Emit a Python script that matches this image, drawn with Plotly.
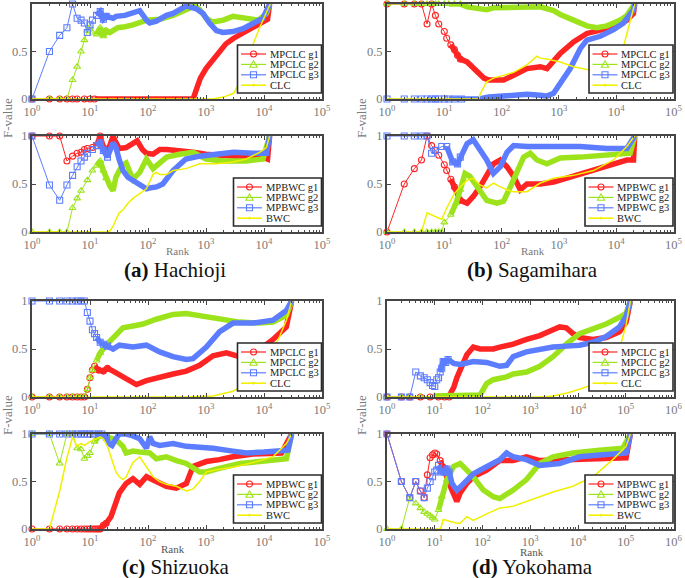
import plotly.graph_objects as go

RED = "#ff2424"
GREEN = "#9de31c"
BLUE = "#5c7dff"
YELLOW = "#f0f000"
FONT = "Liberation Serif"
TICKC = "#7a7a7a"
FRAME = "#454545"

# ---------------- data (rank, F-value) ----------------
# (a) Hachioji
hac_clc_g1_rank = [1, 2, 3, 4, 5, 6, 8, 10, 12, 600, 700, 800, 1000, 1300, 1700, 2200, 3000, 4500, 6500, 9000, 11500, 12500]
hac_clc_g1_f = [0, 0, 0, 0, 0, 0, 0, 0, 0, 0, .12, .22, .32, .41, .5, .58, .64, .7, .74, .79, .84, 1.0]
hac_clc_g2_rank = [1, 2, 3, 4, 5, 6, 7, 8, 9, 10, 11, 13, 15, 17, 19, 22, 26, 30, 40, 55, 95, 160, 270, 460, 640, 780, 1000, 1300, 2000, 2900, 5000, 8000, 11000, 12500]
hac_clc_g2_f = [0, 0, 0, 0, .2, .34, .5, .62, .72, .76, .7, .68, .75, .66, .72, .70, .73, .75, .76, .78, .83, .84, .88, .94, .98, .94, .85, .81, .83, .87, .85, .83, .9, 1.0]
hac_clc_g3_rank = [1, 2, 3, 4, 5, 6, 7, 8, 9, 10, 11, 13, 15, 17, 19, 25, 28, 40, 55, 72, 94, 107, 139, 208, 270, 355, 458, 680, 890, 1150, 1510, 1960, 2920, 4340, 6460, 9610, 12500]
hac_clc_g3_f = [0, .5, .67, .75, 1, .85, .83, .8, .7, .78, .83, .88, .92, .84, .87, .85, .87, .88, .9, .93, .83, .80, .82, .88, .9, .95, .98, .95, .9, .8, .72, .70, .71, .74, .79, .85, 1.0]
hac_clc_rank = [1, 1300, 2000, 3000, 4000, 5000, 6500, 8400, 10000, 12800]
hac_clc_f = [0, 0, .02, .06, .2, .38, .58, .75, .86, 1.0]

hac_bwc_g1_rank = [1, 2, 3, 4, 5, 6, 7, 8, 9, 11, 13, 15, 17, 19, 22, 25, 27, 32, 42, 55, 65, 80, 94, 122, 160, 210, 350, 600, 1000, 2200, 4900, 9600, 11500, 12500]
hac_bwc_g1_f = [1, 1, 1, .74, .79, .82, .83, .86, .87, .88, .9, 1.0, .88, .83, .9, 1.0, .95, .87, .88, .93, .95, .86, .82, .81, .86, .86, .85, .83, .81, .79, .78, .78, .76, 1.0]
hac_bwc_g2_rank = [1, 2, 3, 4, 5, 6, 7, 9, 11, 13, 15, 17, 19, 22, 25, 28, 32, 37, 42, 55, 72, 94, 122, 160, 210, 350, 600, 1000, 2000, 5000, 9600, 12500]
hac_bwc_g2_f = [0, 0, 0, 0, .25, .35, .43, .54, .64, .69, .74, .64, .56, .48, .43, .57, .64, .7, .72, .55, .62, .76, .66, .72, .78, .81, .83, .76, .74, .74, .76, 1.0]
hac_bwc_g3_rank = [1, 2, 3, 4, 5, 6, 7, 8, 9, 11, 13, 15, 17, 20, 25, 28, 32, 37, 45, 55, 72, 94, 110, 140, 180, 210, 270, 450, 780, 1500, 3000, 6500, 11000, 12500]
hac_bwc_g3_f = [1, .49, .33, .49, .59, .68, .74, .78, .82, .86, .9, .93, .85, .78, .93, .88, .75, .64, .57, .54, .5, .45, .46, .47, .5, .56, .64, .76, .79, .81, .83, .82, .82, 1.0]
hac_bwc_rank = [1, 20, 22, 25, 28, 32, 37, 45, 55, 72, 94, 122, 139, 160, 210, 270, 450, 780, 1500, 2900, 4960, 8400, 11000, 12500]
hac_bwc_f = [0, 0, .01, .06, .13, .2, .23, .3, .35, .4, .45, .6, .62, .6, .6, .64, .66, .71, .71, .73, .76, .83, .88, 1.0]

# (b) Sagamihara
sag_clc_g1_rank = [1, 2, 3, 4, 5, 6, 7, 8, 10, 11, 13, 15, 17, 19, 25, 32, 42, 49, 60, 72, 108, 162, 277, 472, 618, 1055, 1800, 3077, 5260, 8980, 15350, 20000, 21000]
sag_clc_g1_f = [1, 1, 1, 1, .79, 1, .88, .79, .71, .64, .57, .52, .46, .42, .39, .32, .26, .22, .2, .2, .2, .25, .32, .34, .32, .48, .6, .69, .73, .76, .83, .9, 1]
sag_clc_g2_rank = [1, 2, 3, 4, 5, 6, 7, 8, 10, 12, 15, 19, 25, 32, 42, 55, 72, 108, 162, 277, 472, 807, 1055, 1800, 3077, 4600, 6870, 8980, 11740, 15350, 21000]
sag_clc_g2_f = [1, 1, 1, 1, 1, 1, 1, 1, 1, 1, 1, 1, .97, .96, .95, .94, .96, .96, .97, .97, .97, .93, .89, .83, .77, .75, .77, .8, .83, .88, 1]
sag_clc_g3_rank = [1, 2, 3, 4, 5, 6, 7, 8, 10, 12, 15, 20, 40, 60, 100, 160, 277, 472, 618, 807, 1055, 1577, 2355, 3077, 5260, 8980, 13420, 20060, 21000]
sag_clc_g3_f = [0, 0, 0, 0, 0, 0, 0, 0, 0, 0, 0, 0, 0, .02, .03, .05, .05, .04, .03, .06, .16, .32, .53, .62, .66, .73, .8, .94, 1]
sag_clc_rank = [1, 40, 42, 49, 55, 72, 108, 162, 277, 413, 472, 618, 1055, 1800, 3077, 4600, 6870, 9000, 11740, 13420, 17500, 21000]
sag_clc_f = [0, 0, .05, .12, .18, .22, .25, .28, .36, .45, .43, .42, .39, .34, .31, .3, .3, .33, .42, .55, .8, 1]

sag_bwc_g1_rank = [1, 2, 3, 4, 5, 6, 7, 8, 10, 11, 13, 15, 19, 25, 32, 42, 55, 72, 95, 124, 162, 212, 277, 472, 807, 1800, 4025, 8980, 15350, 20060, 21000]
sag_bwc_g1_f = [0, .5, .66, .75, 1, .9, .85, .8, .7, .64, .55, .47, .33, .3, .37, .47, .58, .71, .75, .68, .58, .44, .5, .5, .52, .58, .64, .71, .75, .75, 1]
sag_bwc_g2_rank = [1, 2, 3, 4, 5, 6, 7, 8, 9, 10, 13, 16, 19, 23, 28, 37, 55, 83, 108, 142, 185, 242, 316, 413, 618, 1055, 2355, 5260, 11740, 17540, 21000]
sag_bwc_g2_f = [0, 0, 0, 0, 0, 0, 0, 0, 0, .1, .18, .3, .44, .61, .58, .47, .33, .3, .32, .47, .64, .78, .82, .75, .71, .77, .78, .8, .82, .82, 1]
sag_bwc_g3_rank = [1, 2, 3, 4, 5, 6, 7, 9, 11, 14, 17, 19, 25, 32, 42, 55, 72, 95, 124, 162, 277, 472, 1055, 2355, 6870, 15350, 21000]
sag_bwc_g3_f = [1, 1, 1, 1, 1, .82, .85, .89, .89, .73, .71, .78, .92, .96, .85, .75, .61, .68, .83, .9, .89, .89, .9, .89, .87, .87, 1]
sag_bwc_rank = [1, 2, 3, 4, 5, 9, 11, 15, 19, 25, 32, 42, 55, 72, 95, 124, 162, 277, 472, 807, 1800, 4025, 8980, 15350, 21000]
sag_bwc_f = [0, 0, 0, 0, .2, .13, .25, .4, .47, .54, .56, .49, .46, .51, .47, .44, .42, .42, .51, .56, .59, .64, .75, .89, 1]

# (c) Shizuoka
shi_clc_g1_rank = [1, 2, 3, 4, 5, 6, 7, 8, 9, 10, 11, 12, 14, 17, 20, 25, 32, 42, 63, 94, 159, 270, 458, 777, 1321, 2242, 3805, 6460, 14300, 24300, 30000]
shi_clc_g1_f = [0, 0, 0, 0, 0, 0, 0, 0, .08, .2, .28, .32, .28, .27, .3, .27, .23, .18, .13, .17, .21, .24, .27, .33, .43, .46, .42, .44, .6, .73, 1]
shi_clc_g2_rank = [1, 2, 3, 4, 5, 6, 7, 8, 9, 10, 11, 13, 15, 19, 25, 37, 55, 82, 139, 270, 458, 1013, 2242, 3805, 8420, 14300, 24300, 30000]
shi_clc_g2_f = [0, 0, 0, 0, 0, 0, 0, 0, .08, .2, .28, .38, .46, .54, .62, .72, .74, .76, .81, .86, .87, .84, .8, .78, .77, .78, .85, 1]
shi_clc_g3_rank = [1, 2, 3, 4, 5, 6, 7, 8, 9, 10, 11, 12, 13, 15, 17, 20, 25, 32, 55, 94, 159, 270, 458, 597, 1013, 1721, 2922, 6460, 14300, 24300, 30000]
shi_clc_g3_f = [1, 1, 1, 1, 1, 1, 1, 1, .88, .79, .7, .66, .62, .57, .55, .53, .5, .54, .52, .54, .47, .42, .39, .4, .52, .68, .77, .77, .8, .9, 1]
shi_clc_rank = [1, 458, 1321, 2922, 4345, 6460, 8420, 11000, 14300, 18600, 24300, 30000]
shi_clc_f = [0, 0, .01, .06, .12, .2, .28, .36, .5, .63, .8, 1]

shi_bwc_g1_rank = [1, 2, 3, 4, 5, 6, 7, 8, 9, 10, 11, 12, 13, 14, 15, 17, 19, 23, 27, 32, 42, 55, 72, 94, 139, 207, 308, 458, 597, 1013, 1700, 2900, 6500, 14300, 20000, 30000]
shi_bwc_g1_f = [0, 0, 0, 0, 0, 0, 0, 0, 0, 0, 0, 0, 0, 0, 0, .04, .06, .13, .27, .38, .48, .53, .47, .55, .5, .45, .43, .48, .66, .71, .73, .76, .79, .79, .8, 1]
shi_bwc_g2_rank = [1, 2, 3, 4, 5, 6, 7, 8, 9, 10, 12, 14, 16, 19, 22, 28, 37, 42, 55, 72, 107, 139, 207, 308, 458, 778, 1013, 1500, 2242, 3805, 8420, 18600, 24300, 30000]
shi_bwc_g2_f = [1, 1, .69, 1, 1, .85, .84, .74, .77, .8, .92, .97, .99, .98, .96, .94, .87, .8, .82, .81, .8, .74, .76, .72, .69, .6, .6, .63, .65, .69, .71, .74, .74, 1]
shi_bwc_g3_rank = [1, 2, 3, 4, 5, 6, 7, 8, 9, 10, 12, 14, 16, 19, 21, 24, 26, 28, 32, 42, 55, 72, 94, 107, 122, 159, 270, 458, 778, 1321, 2922, 5000, 10000, 18600, 26000, 30000]
shi_bwc_g3_f = [1, 1, 1, 1, 1, 1, 1, 1, 1, 1, 1, 1, 1, .97, .9, .88, .93, .95, 1, 1, .98, .95, .85, .97, .9, .88, .9, .87, .86, .85, .82, .8, .81, .83, .83, 1]
shi_bwc_rank = [1, 2, 3, 4, 5, 6, 7, 8, 10, 13, 15, 17, 20, 25, 28, 32, 37, 42, 55, 72, 94, 122, 159, 207, 308, 458, 597, 778, 1013, 1700, 2900, 6500, 14300, 24300, 30000]
shi_bwc_f = [0, 0, .4, .75, .97, .87, .9, .88, .92, .95, .97, .95, .87, .69, .6, .55, .52, .55, .7, .76, .65, .55, .5, .47, .45, .4, .42, .5, .6, .63, .65, .7, .76, .9, 1]

# (d) Yokohama
yok_clc_g1_rank = [1, 2, 3, 5, 8, 12, 16, 20, 22, 25, 29, 34, 40, 47, 64, 89, 122, 168, 231, 319, 439, 834, 1581, 3000, 4130, 5690, 7840, 10800, 20500, 38900, 73800, 101600, 125000]
yok_clc_g1_f = [0, 0, 0, 0, 0, 0, 0, 0, .05, .1, .2, .28, .37, .44, .52, .5, .5, .5, .52, .53, .55, .6, .64, .7, .73, .72, .66, .62, .6, .62, .68, .78, 1]
yok_clc_g2_rank = [1, 2, 3, 5, 10, 20, 50, 89, 104, 122, 168, 231, 319, 439, 834, 1581, 3000, 5690, 7840, 10800, 20500, 38900, 73800, 101600, 125000]
yok_clc_g2_f = [0, 0, 0, 0, .01, .01, .01, .02, .08, .14, .18, .19, .21, .24, .26, .32, .42, .55, .61, .66, .71, .76, .83, .87, 1]
yok_clc_g3_rank = [1, 2, 3, 4, 5, 6, 7, 8, 9, 10, 11, 12, 13, 14, 15, 17, 19, 22, 25, 34, 64, 122, 231, 320, 440, 830, 1580, 3000, 5700, 10800, 20500, 38900, 73800, 101600, 125000]
yok_clc_g3_f = [0, 0, 0, .26, .22, .2, .18, .15, .12, .11, .18, .2, .26, .3, .37, .36, .39, .37, .35, .34, .37, .36, .32, .33, .42, .47, .5, .52, .53, .54, .57, .63, .73, .84, 1]
yok_clc_rank = [1, 1581, 3000, 5690, 10800, 20500, 38900, 53500, 73800, 101600, 125000]
yok_clc_f = [0, 0, .01, .04, .08, .13, .2, .3, .5, .75, 1]

yok_bwc_g1_rank = [1, 2, 3, 4, 5, 6, 7, 8, 9, 10, 11, 13, 15, 17, 19, 22, 25, 29, 34, 47, 64, 122, 231, 439, 834, 1581, 5690, 20500, 53500, 86500, 101600, 125000]
yok_bwc_g1_f = [1, .5, .33, .5, .4, .33, .57, .75, .78, .8, .79, .72, .65, .6, .52, .43, .36, .29, .38, .48, .55, .62, .72, .72, .76, .72, .73, .74, .75, .74, .75, 1]
yok_bwc_g2_rank = [1, 2, 3, 4, 5, 6, 7, 8, 9, 10, 12, 14, 18, 25, 34, 47, 64, 104, 168, 231, 439, 834, 1581, 3000, 7840, 28200, 86500, 125000]
yok_bwc_g2_f = [0, 0, .33, .27, .22, .18, .16, .14, .12, .1, .2, .34, .52, .66, .69, .62, .55, .41, .34, .32, .41, .52, .69, .76, .8, .83, .85, 1]
yok_bwc_g3_rank = [1, 2, 3, 4, 5, 6, 7, 8, 9, 10, 11, 12, 14, 16, 18, 20, 23, 26, 29, 34, 40, 47, 64, 89, 122, 168, 231, 319, 439, 834, 1581, 4130, 10800, 28200, 73800, 101600, 125000]
yok_bwc_g3_f = [1, .5, .33, .5, .4, .33, .43, .5, .55, .6, .62, .67, .6, .6, .63, .6, .48, .44, .41, .44, .48, .52, .58, .62, .66, .7, .73, .8, .76, .73, .67, .69, .76, .78, .8, .8, 1]
yok_bwc_rank = [1, 13, 14, 15, 18, 21, 25, 29, 34, 40, 47, 64, 89, 104, 122, 168, 231, 439, 834, 1581, 3000, 7840, 20500, 53500, 73800, 101600, 125000]
yok_bwc_f = [0, 0, .04, .1, .09, .08, .07, .06, .06, .1, .13, .09, .12, .14, .16, .19, .22, .24, .29, .34, .39, .45, .55, .73, .8, .87, 1]

clc_labels = ["MPCLC g1", "MPCLC g2", "MPCLC g3", "CLC"]
bwc_labels = ["MPBWC g1", "MPBWC g2", "MPBWC g3", "BWC"]
captions = ["<b>(a)</b> Hachioji", "<b>(b)</b> Sagamihara", "<b>(c)</b> Shizuoka", "<b>(d)</b> Yokohama"]

# ---------------- layout geometry (pixels) ----------------
W, H = 685, 578
LEFT = (32, 322)
RIGHT = (387, 673.5)
ROWS = [(4, 99), (136, 232), (301, 397), (434, 529)]

subplots = [
    (LEFT, ROWS[0], 5, [(hac_clc_g1_rank, hac_clc_g1_f), (hac_clc_g2_rank, hac_clc_g2_f), (hac_clc_g3_rank, hac_clc_g3_f), (hac_clc_rank, hac_clc_f)], clc_labels),
    (LEFT, ROWS[1], 5, [(hac_bwc_g1_rank, hac_bwc_g1_f), (hac_bwc_g2_rank, hac_bwc_g2_f), (hac_bwc_g3_rank, hac_bwc_g3_f), (hac_bwc_rank, hac_bwc_f)], bwc_labels),
    (RIGHT, ROWS[0], 5, [(sag_clc_g1_rank, sag_clc_g1_f), (sag_clc_g2_rank, sag_clc_g2_f), (sag_clc_g3_rank, sag_clc_g3_f), (sag_clc_rank, sag_clc_f)], clc_labels),
    (RIGHT, ROWS[1], 5, [(sag_bwc_g1_rank, sag_bwc_g1_f), (sag_bwc_g2_rank, sag_bwc_g2_f), (sag_bwc_g3_rank, sag_bwc_g3_f), (sag_bwc_rank, sag_bwc_f)], bwc_labels),
    (LEFT, ROWS[2], 5, [(shi_clc_g1_rank, shi_clc_g1_f), (shi_clc_g2_rank, shi_clc_g2_f), (shi_clc_g3_rank, shi_clc_g3_f), (shi_clc_rank, shi_clc_f)], clc_labels),
    (LEFT, ROWS[3], 5, [(shi_bwc_g1_rank, shi_bwc_g1_f), (shi_bwc_g2_rank, shi_bwc_g2_f), (shi_bwc_g3_rank, shi_bwc_g3_f), (shi_bwc_rank, shi_bwc_f)], bwc_labels),
    (RIGHT, ROWS[2], 6, [(yok_clc_g1_rank, yok_clc_g1_f), (yok_clc_g2_rank, yok_clc_g2_f), (yok_clc_g3_rank, yok_clc_g3_f), (yok_clc_rank, yok_clc_f)], clc_labels),
    (RIGHT, ROWS[3], 6, [(yok_bwc_g1_rank, yok_bwc_g1_f), (yok_bwc_g2_rank, yok_bwc_g2_f), (yok_bwc_g3_rank, yok_bwc_g3_f), (yok_bwc_rank, yok_bwc_f)], bwc_labels),
]

COLORS = [RED, GREEN, BLUE, YELLOW]
SYMBOLS = ["circle-open", "triangle-up-open", "square-open", None]

fig = go.Figure()
layout = {}
shapes = []
annotations = []

MARK_TO = 20
BAND_FROM = 14

for i, (xs, ys, xmax, series, labels) in enumerate(subplots, start=1):
    xa = "x" if i == 1 else f"x{i}"
    ya = "y" if i == 1 else f"y{i}"
    xkey = "xaxis" if i == 1 else f"xaxis{i}"
    ykey = "yaxis" if i == 1 else f"yaxis{i}"
    pw = xs[1] - xs[0]
    ph = ys[1] - ys[0]
    layout[xkey] = dict(
        domain=[xs[0] / W, xs[1] / W], anchor=ya, type="log", range=[0, xmax], automargin=False,
        tickmode="array", tickvals=[10 ** k for k in range(xmax + 1)],
        ticktext=[f"10<sup>{k}</sup>" for k in range(xmax + 1)],
        ticks="inside", ticklen=4, tickwidth=1, tickcolor=FRAME,
        showline=True, linecolor=FRAME, linewidth=2, mirror="allticks",
        showgrid=False, zeroline=False,
        tickfont=dict(family=FONT, size=12.5, color=TICKC),
        minor=dict(tickmode="array",
                   tickvals=[m * 10 ** k for k in range(xmax) for m in range(2, 10)],
                   ticks="inside", ticklen=2, tickwidth=1, tickcolor=FRAME, showgrid=False),
    )
    layout[ykey] = dict(
        domain=[1 - ys[1] / H, 1 - ys[0] / H], anchor=xa, range=[0, 1], automargin=False,
        tickmode="array", tickvals=[0, 0.5, 1], ticktext=["0", "0.5", "1"],
        ticks="inside", ticklen=4, tickwidth=1, tickcolor=FRAME,
        showline=True, linecolor=FRAME, linewidth=2, mirror="allticks",
        showgrid=False, zeroline=False,
        tickfont=dict(family=FONT, size=12.5, color=TICKC),
    )

    for (r, f), col, sym in zip(series, COLORS, SYMBOLS):
        if sym is None:
            fig.add_trace(go.Scatter(x=r, y=f, xaxis=xa, yaxis=ya, mode="lines",
                                     line=dict(color=col, width=1.5), hoverinfo="skip"))
            continue
        mi = [k for k, v in enumerate(r) if v <= MARK_TO]
        first = next((k for k, v in enumerate(r) if v >= BAND_FROM), len(r) - 1)
        bi = list(range(max(first - 1, 0), len(r)))
        fig.add_trace(go.Scatter(x=[r[k] for k in mi], y=[f[k] for k in mi], xaxis=xa, yaxis=ya,
                                 mode="lines+markers", cliponaxis=False,
                                 line=dict(color=col, width=1),
                                 marker=dict(symbol=sym, size=6, color=col, line=dict(width=1.1, color=col)),
                                 hoverinfo="skip"))
        fig.add_trace(go.Scatter(x=[r[k] for k in bi], y=[f[k] for k in bi], xaxis=xa, yaxis=ya,
                                 mode="lines", line=dict(color=col, width=5.5), hoverinfo="skip"))

    # custom legend box (pixel offsets inside the subplot)
    xr = f"{xa} domain"
    yr = f"{ya} domain"
    bw = 84 if labels is clc_labels else 88
    bx1 = pw - 0.5
    bx0 = bx1 - bw
    by0, by1 = 6, 54
    shapes.append(dict(type="rect", xref=xr, yref=yr, x0=bx0 / pw, x1=bx1 / pw, y0=by0 / ph, y1=by1 / ph,
                       line=dict(color="#2a2a2a", width=1.6), fillcolor="white", layer="above"))
    for k, (lab, col, sym) in enumerate(zip(labels, COLORS, SYMBOLS)):
        yc = by1 - 9 - k * 10.4
        cx = bx0 + 16
        shapes.append(dict(type="line", xref=xr, yref=yr, x0=(bx0 + 3.5) / pw, x1=(bx0 + 28.5) / pw,
                           y0=yc / ph, y1=yc / ph, line=dict(color=col, width=1.2 if sym else 1.6)))
        if sym == "circle-open":
            shapes.append(dict(type="circle", xref=xr, yref=yr, x0=(cx - 3) / pw, x1=(cx + 3) / pw,
                               y0=(yc - 3) / ph, y1=(yc + 3) / ph, line=dict(color=col, width=1.1)))
        elif sym == "square-open":
            shapes.append(dict(type="rect", xref=xr, yref=yr, x0=(cx - 3) / pw, x1=(cx + 3) / pw,
                               y0=(yc - 3) / ph, y1=(yc + 3) / ph, line=dict(color=col, width=1.1)))
        elif sym == "triangle-up-open":
            p = (f"M{(cx - 3.6) / pw},{(yc - 2.8) / ph} L{(cx + 3.6) / pw},{(yc - 2.8) / ph} "
                 f"L{cx / pw},{(yc + 3.6) / ph} Z")
            shapes.append(dict(type="path", xref=xr, yref=yr, path=p, line=dict(color=col, width=1.1)))
        else:
            shapes.append(dict(type="circle", xref=xr, yref=yr, x0=(cx - 1) / pw, x1=(cx + 1) / pw,
                               y0=(yc - 1) / ph, y1=(yc + 1) / ph, line=dict(color=col, width=1),
                               fillcolor=col))
        annotations.append(dict(xref=xr, yref=yr, x=(bx0 + 30) / pw, y=yc / ph, text=lab,
                                showarrow=False, xanchor="left", yanchor="middle",
                                font=dict(family=FONT, size=10.5, color="#1a1a1a")))

# panel texts
for cx, cy, txt in [(175, 270, captions[0]), (532, 270, captions[1]),
                    (175, 567, captions[2]), (532, 567, captions[3])]:
    annotations.append(dict(xref="paper", yref="paper", x=cx / W, y=1 - cy / H, text=txt,
                            showarrow=False, xanchor="center", yanchor="middle",
                            font=dict(family=FONT, size=21, color="#111111")))
for cx, cy, col in [(178, 251, TICKC), (533, 251, TICKC), (173, 549, "#555555"), (532, 552, "#555555")]:
    annotations.append(dict(xref="paper", yref="paper", x=cx / W, y=1 - cy / H, text="Rank",
                            showarrow=False, xanchor="center", yanchor="middle",
                            font=dict(family=FONT, size=11, color=col)))
for cx, cy in [(7, 118), (361, 118), (7, 415), (361, 415)]:
    annotations.append(dict(xref="paper", yref="paper", x=cx / W, y=1 - cy / H, text="F-value",
                            showarrow=False, xanchor="center", yanchor="middle", textangle=-90,
                            font=dict(family=FONT, size=13, color=TICKC)))

fig.update_layout(width=W, height=H, margin=dict(l=0, r=0, t=0, b=0, autoexpand=False),
                  paper_bgcolor="white", plot_bgcolor="white", showlegend=False,
                  shapes=shapes, annotations=annotations, **layout)

fig.write_html("out.html", config={"displayModeBar": False},
               post_script="document.body.style.margin='0';document.body.style.padding='0';")
